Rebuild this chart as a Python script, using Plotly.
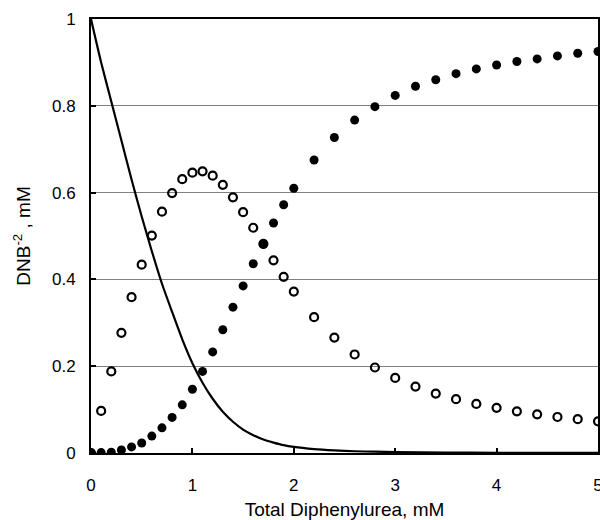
import plotly.graph_objects as go

# Total diphenylurea (mM)
x_pts = [0.0, 0.1, 0.2, 0.3, 0.4, 0.5, 0.6, 0.7, 0.8, 0.9, 1.0, 1.1, 1.2, 1.3, 1.4,
         1.5, 1.6, 1.7, 1.8, 1.9, 2.0, 2.2, 2.4, 2.6, 2.8, 3.0, 3.2, 3.4, 3.6, 3.8,
         4.0, 4.2, 4.4, 4.6, 4.8, 5.0]

# Filled circles (1:2 complex)
filled_y = [0.0, 0.001, 0.002, 0.007, 0.014, 0.023, 0.039, 0.058, 0.082, 0.111, 0.147,
            0.188, 0.233, 0.284, 0.336, 0.385, 0.436, 0.481, 0.530, 0.572, 0.610,
            0.675, 0.727, 0.767, 0.798, 0.824, 0.845, 0.860, 0.874, 0.885, 0.894,
            0.902, 0.908, 0.915, 0.921, 0.925]

# Open circles (1:1 complex)
open_y = [0.0, 0.097, 0.188, 0.277, 0.359, 0.434, 0.501, 0.556, 0.599, 0.631, 0.646,
          0.649, 0.639, 0.618, 0.589, 0.555, 0.519, 0.482, 0.444, 0.406, 0.372,
          0.313, 0.266, 0.227, 0.197, 0.173, 0.153, 0.137, 0.124, 0.113, 0.104,
          0.096, 0.089, 0.083, 0.078, 0.073]

# Solid line (free DNB)
line_x = [0.0, 0.1, 0.2, 0.3, 0.4, 0.5, 0.6, 0.7, 0.8, 0.9, 1.0, 1.1, 1.2, 1.3, 1.4,
          1.5, 1.6, 1.7, 1.8, 1.9, 2.0, 2.2, 2.4, 2.6, 2.8, 3.0, 3.5, 4.0, 4.5, 5.0]
line_y = [1.0, 0.90, 0.81, 0.72, 0.63, 0.545, 0.465, 0.39, 0.325, 0.262, 0.207, 0.162,
          0.125, 0.095, 0.072, 0.054, 0.041, 0.031, 0.024, 0.018, 0.014, 0.009, 0.006,
          0.004, 0.003, 0.002, 0.001, 0.0005, 0.0003, 0.0002]

x_ticks = [0, 1, 2, 3, 4, 5]
y_ticks = [0, 0.2, 0.4, 0.6, 0.8, 1]
y_ticklabels = ["0", "0.2", "0.4", "0.6", "0.8", "1"]

fig = go.Figure()
fig.add_trace(go.Scatter(x=line_x, y=line_y, mode="lines",
                         line=dict(color="black", width=2.2, shape="spline", smoothing=0.6),
                         hoverinfo="skip"))
fig.add_trace(go.Scatter(x=x_pts, y=open_y, mode="markers",
                         marker=dict(symbol="circle-open", size=8, color="black",
                                     line=dict(width=2.2, color="black"))))
fig.add_trace(go.Scatter(x=x_pts, y=filled_y, mode="markers",
                         marker=dict(symbol="circle", size=9, color="black",
                                     line=dict(width=0))))

font = "Liberation Sans, Arial, sans-serif"
fig.update_layout(
    width=600, height=520,
    margin=dict(l=91, r=2, t=19, b=67),
    paper_bgcolor="white", plot_bgcolor="white",
    showlegend=False,
    font=dict(family=font, size=17, color="black"),
    xaxis=dict(range=[0, 5], tickvals=x_ticks, ticks="inside", ticklen=5, tickwidth=2,
               tickcolor="black", showline=True, linewidth=2, linecolor="black",
               mirror=True, showgrid=False, zeroline=False, ticklabelstandoff=16,
               automargin=False, tickfont=dict(size=17), ticklabeloverflow="allow",
               title=dict(text="Total Diphenylurea, mM", font=dict(size=19), standoff=8)),
    yaxis=dict(range=[0, 1], tickvals=y_ticks, ticktext=y_ticklabels, ticks="inside",
               ticklen=5, tickwidth=2, tickcolor="black", showline=True, linewidth=2,
               linecolor="black", mirror=True, showgrid=True, gridcolor="#808080",
               gridwidth=1, zeroline=False, ticklabelstandoff=10, automargin=False,
               tickfont=dict(size=17), ticklabeloverflow="allow",
               title=dict(text="DNB<sup>-2</sup> , mM", font=dict(size=19), standoff=16)),
)
fig.write_html("out.html", config={"displayModeBar": False},
               post_script="document.body.style.margin='0';document.body.style.padding='0';")
